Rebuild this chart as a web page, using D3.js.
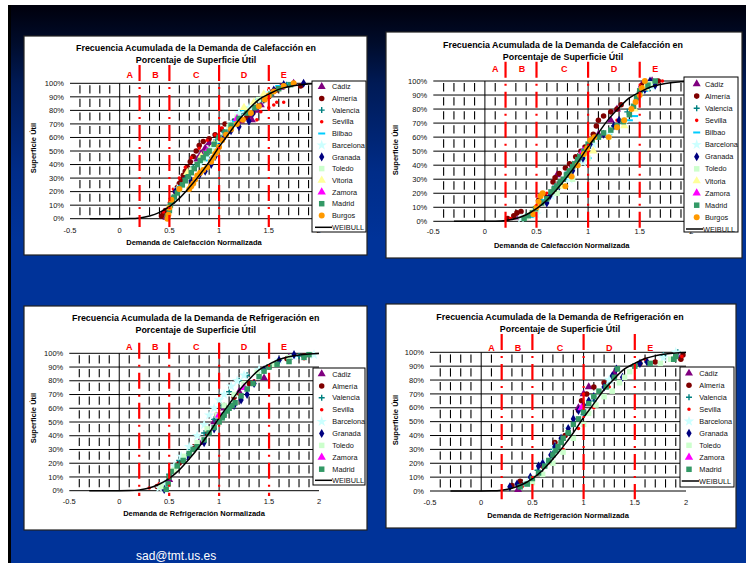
<!DOCTYPE html>
<html>
<head>
<meta charset="utf-8">
<script src="https://cdn.jsdelivr.net/npm/d3@7"></script>
<style>
  body { margin: 0; background: #fff; }
  svg { display: block; }
  text { font-family: "Liberation Sans", Arial, sans-serif; }
</style>
</head>
<body>
<svg id="slide" width="746" height="563"></svg>
<script>
// ---- data ----
var xTicks = [-0.5, 0, 0.5, 1, 1.5, 2];
var yTicks = [0, 10, 20, 30, 40, 50, 60, 70, 80, 90, 100];
var minorX = [-0.4, -0.3, -0.2, -0.1, 0.1, 0.3, 0.4, 0.6, 0.7, 0.8, 0.9, 1.1, 1.2, 1.3, 1.4, 1.6, 1.7, 1.8, 1.9];
var zoneLines = [0.2, 0.5, 1, 1.5];
var zoneNames = ["A", "B", "C", "D", "E"];
var zoneNameX = [0.1, 0.36, 0.77, 1.25, 1.65];

var seriesCalef = ["Cádiz", "Almería", "Valencia", "Sevilla", "Bilbao", "Barcelona", "Granada", "Toledo", "Vitoria", "Zamora", "Madrid", "Burgos"];
var seriesRefrig = ["Cádiz", "Almería", "Valencia", "Sevilla", "Barcelona", "Granada", "Toledo", "Zamora", "Madrid"];

var weibullX = [-0.3, 0, 0.1, 0.2, 0.3, 0.4, 0.5, 0.6, 0.7, 0.8, 0.9, 1.0, 1.1, 1.2, 1.3, 1.4, 1.5, 1.6, 1.7, 1.8, 1.9, 2.0];
var weibullY = [0, 0, 0.1, 0.6, 2, 4.7, 9, 15, 23, 32, 42, 53, 63, 73, 81, 88, 92, 95.5, 97.5, 98.8, 99.5, 99.8];

var calef1 = {
  "Cádiz": [[0.47,1],[0.78,44],[0.82,48],[0.86,52],[0.9,56],[1.22,72],[1.27,74],[1.3,76],[1.33,73],[1.38,80],[1.42,84],[1.52,92],[1.62,97],[1.75,100]],
  "Almería": [[0.42,2],[0.44,4],[0.46,6],[0.56,20],[0.58,23],[0.6,26],[0.62,29],[0.64,32],[0.66,35],[0.68,38],[0.71,42],[0.74,46],[0.77,50],[0.8,54],[0.84,57],[0.9,59],[0.96,62],[1.02,66],[1.06,70],[1.15,72],[1.28,75],[1.34,78],[1.5,90],[1.58,95],[1.7,99],[1.82,98]],
  "Valencia": [[0.52,15],[0.58,21],[0.66,30],[0.74,38],[0.82,44],[0.9,50],[0.97,58],[1.05,64],[1.14,72],[1.22,78],[1.3,82],[1.42,88],[1.55,95],[1.68,99]],
  "Sevilla": [[0.44,5],[0.5,12],[0.54,22],[0.6,30],[0.66,38],[0.72,45],[0.8,52],[0.88,58],[0.96,62],[1.03,67],[1.1,69],[1.2,72],[1.38,73],[1.42,79],[1.5,82],[1.55,84],[1.58,86],[1.65,86],[1.5,95]],
  "Bilbao": [[0.62,24],[0.85,43],[0.98,56],[1.15,72],[1.25,80],[1.4,88],[1.6,98],[1.72,100]],
  "Barcelona": [[0.58,22],[0.7,32],[0.8,40],[0.88,46],[0.94,52],[1.02,60],[1.12,70],[1.2,78],[1.3,82],[1.38,86],[1.5,93]],
  "Granada": [[0.56,20],[0.72,28],[0.8,32],[0.86,35],[0.92,40],[0.96,46],[1.0,53],[1.05,60],[1.12,65],[1.2,68],[1.3,72],[1.34,78],[1.38,84],[1.45,88],[1.55,95],[1.65,99],[1.85,100]],
  "Toledo": [[0.5,8],[0.6,22],[0.72,36],[0.84,44],[0.92,50],[1.0,58],[1.1,68],[1.18,75],[1.28,80],[1.4,88]],
  "Vitoria": [[0.68,34],[0.82,46],[0.95,55],[1.25,82],[1.35,86],[1.45,92]],
  "Zamora": [[0.88,50],[1.18,74]],
  "Madrid": [[0.48,2],[0.5,6],[0.51,10],[0.53,13],[0.55,16],[0.58,19],[0.6,22],[0.63,25],[0.66,28],[0.69,31],[0.72,34],[0.75,37],[0.78,40],[0.81,43],[0.84,45],[0.87,48],[0.9,50],[0.95,55],[1.0,60],[1.06,64],[1.12,69],[1.2,74],[1.28,78],[1.36,82],[1.45,88],[1.52,92],[1.6,96],[1.72,99]],
  "Burgos": [[0.48,0],[0.49,3],[0.5,8],[0.52,14],[0.6,22],[0.7,22],[0.72,24],[0.74,26],[0.76,29],[0.78,32],[0.81,34],[0.84,36],[0.88,38],[0.92,42],[0.94,45],[0.96,48],[0.98,50],[1.0,53],[1.03,58],[1.07,62],[1.12,66],[1.18,70],[1.24,73],[1.32,78],[1.4,83],[1.46,88],[1.5,91],[1.55,94],[1.65,98],[1.75,100]]
};

var calef2 = {
  "Cádiz": [[0.3,3],[0.7,33],[0.85,40],[0.9,44],[1.1,62],[1.22,72],[1.28,80],[1.52,97],[1.62,100]],
  "Almería": [[0.22,2],[0.28,4],[0.31,6],[0.35,7],[0.52,15],[0.6,18],[0.66,28],[0.68,31],[0.72,34],[0.78,38],[0.82,41],[0.88,46],[0.93,50],[0.97,53],[1.05,62],[1.08,68],[1.1,72],[1.15,75],[1.22,78],[1.28,80],[1.32,83],[1.52,97],[1.68,100]],
  "Valencia": [[0.4,4],[0.55,15],[0.68,25],[0.8,35],[0.92,45],[1.0,52],[1.1,60],[1.25,68],[1.38,78],[1.5,92],[1.6,95]],
  "Sevilla": [[0.25,2],[0.45,5],[0.6,20],[0.75,30],[0.88,40],[1.0,50],[1.15,62],[1.28,72],[1.48,90],[1.6,99],[1.72,100]],
  "Bilbao": [[0.45,3],[0.58,15],[0.8,30],[1.0,45],[1.2,62],[1.4,72],[1.45,75],[1.55,93]],
  "Barcelona": [[0.35,2],[0.5,5],[0.65,18],[0.82,30],[0.95,42],[1.05,55],[1.2,62],[1.35,70],[1.5,90],[1.62,96]],
  "Granada": [[0.6,13],[0.63,18],[0.72,25],[0.85,36],[0.95,45],[1.02,55],[1.15,62],[1.25,68],[1.3,72],[1.55,94],[1.6,100],[1.65,97]],
  "Toledo": [[0.4,3],[0.5,8],[0.7,20],[0.85,30],[1.0,45],[1.2,60],[1.35,72],[1.48,88],[1.6,98]],
  "Vitoria": [[0.45,6],[0.75,25],[1.05,50],[1.35,68],[1.45,80],[1.55,95]],
  "Zamora": [[0.95,50]],
  "Madrid": [[0.38,2],[0.42,4],[0.46,6],[0.49,9],[0.55,13],[0.6,16],[0.64,21],[0.67,23],[0.7,25],[0.73,28],[0.76,30],[0.79,33],[0.82,36],[0.85,39],[0.87,41],[0.9,44],[0.92,46],[0.96,50],[1.0,55],[1.04,58],[1.1,60],[1.15,63],[1.22,65],[1.28,68],[1.34,71],[1.4,76],[1.44,82],[1.47,88],[1.5,93],[1.58,97],[1.65,100]],
  "Burgos": [[0.47,5],[0.5,10],[0.52,14],[0.54,18],[0.56,20],[0.78,25],[0.84,32],[0.9,40],[0.96,48],[0.99,52],[1.02,58],[1.06,60],[1.2,60],[1.28,67],[1.35,72],[1.42,80],[1.46,85],[1.5,90],[1.52,95],[1.55,100]]
};

var refrig1 = {
  "Cádiz": [[0.5,8],[0.8,35],[0.95,50],[1.05,60],[1.2,72],[1.45,82],[1.7,97]],
  "Almería": [[0.38,3],[0.5,10],[0.6,20],[0.75,32],[0.88,42],[0.98,55],[1.05,62],[1.15,68],[1.3,78],[1.5,90],[1.68,96],[1.85,98]],
  "Valencia": [[0.5,12],[0.6,22],[0.72,30],[0.85,42],[0.95,52],[1.02,62],[1.1,72],[1.2,80],[1.28,84],[1.4,88],[1.6,95],[1.8,98]],
  "Sevilla": [[0.3,2],[0.4,5],[0.55,14],[0.65,22],[0.78,32],[0.9,42],[1.0,52],[1.08,60],[1.2,70],[1.35,80],[1.5,90],[1.85,96]],
  "Barcelona": [[0.4,2],[0.45,5],[0.55,18],[0.62,25],[0.7,32],[0.78,40],[0.85,48],[0.9,55],[0.95,60],[1.0,66],[1.05,70],[1.12,76],[1.18,80],[1.25,84],[1.4,88],[1.6,95],[1.75,98],[1.95,99]],
  "Granada": [[0.45,1],[0.68,25],[0.85,35],[0.95,45],[1.05,55],[1.15,62],[1.22,66],[1.28,70],[1.35,78],[1.45,88],[1.6,95],[1.75,99]],
  "Toledo": [[0.42,3],[0.55,15],[0.65,25],[0.78,35],[0.88,45],[0.98,55],[1.05,62],[1.15,70],[1.25,78],[1.38,86],[1.55,92],[1.7,97]],
  "Zamora": [[1.0,55],[1.25,75]],
  "Madrid": [[0.47,1],[0.49,5],[0.5,10],[0.52,14],[0.58,18],[0.64,22],[0.7,27],[0.74,30],[0.78,32],[0.85,37],[0.9,42],[0.95,46],[1.0,50],[1.03,53],[1.05,55],[1.08,58],[1.1,60],[1.13,62],[1.16,64],[1.22,69],[1.28,74],[1.34,78],[1.4,83],[1.45,87],[1.5,90],[1.58,92],[1.7,94],[1.85,97],[1.9,99]]
};

var refrig2 = {
  "Cádiz": [[0.36,1],[0.95,60],[1.0,70],[1.05,75],[1.3,85],[1.92,97]],
  "Almería": [[0.3,4],[0.38,7],[0.6,18],[0.72,35],[0.82,40],[0.95,58],[0.98,65],[1.03,70],[1.1,75],[1.2,78],[1.3,82],[1.55,92],[1.7,93],[1.95,95],[1.97,98]],
  "Valencia": [[0.42,5],[0.55,15],[0.7,30],[0.85,42],[1.0,55],[1.1,65],[1.25,78],[1.55,92],[1.78,98],[1.92,100]],
  "Sevilla": [[0.4,3],[0.55,12],[0.68,20],[0.8,30],[0.95,45],[1.0,70],[1.1,60],[1.25,75],[1.6,95],[1.96,97]],
  "Barcelona": [[0.45,6],[0.62,20],[0.72,32],[0.85,45],[0.98,58],[1.1,68],[1.25,80],[1.78,96],[1.9,100]],
  "Granada": [[0.28,3],[0.35,5],[0.48,10],[0.56,18],[0.6,20],[0.68,26],[0.72,32],[0.78,38],[0.85,45],[0.9,52],[0.95,58],[1.0,62],[1.05,65],[1.1,68],[1.2,75],[1.28,83],[1.32,88],[1.38,82],[1.55,92],[1.62,93]],
  "Toledo": [[0.5,6],[0.6,12],[0.7,20],[0.8,28],[0.9,38],[1.0,48],[1.05,56],[1.12,62],[1.2,68],[1.28,72],[1.35,78],[1.4,82],[1.45,86],[1.75,92],[1.85,95]],
  "Zamora": [[0.98,60]],
  "Madrid": [[0.38,3],[0.45,5],[0.5,9],[0.56,13],[0.62,18],[0.66,22],[0.7,26],[0.73,29],[0.75,32],[0.78,35],[0.8,38],[0.85,42],[0.9,48],[0.95,52],[1.0,57],[1.05,63],[1.1,68],[1.15,72],[1.22,75],[1.3,82],[1.33,88],[1.5,90],[1.65,92],[1.88,95],[1.9,97]]
};

// ---- marker styles (Excel-like) ----
var markers = {
  "Cádiz":     { type: "triangle", size: 28, fill: "#800080" },
  "Almería":   { type: "circle",   size: 24, fill: "#800000" },
  "Valencia":  { type: "plus",     size: 0,  fill: "#008080" },
  "Sevilla":   { type: "circle",   size: 10, fill: "#ff0000" },
  "Bilbao":    { type: "dash",     size: 0,  fill: "#00ccff" },
  "Barcelona": { type: "star",     size: 34, fill: "#ccffff" },
  "Granada":   { type: "diamond",  size: 24, fill: "#000080" },
  "Toledo":    { type: "square",   size: 30, fill: "#ccffcc" },
  "Vitoria":   { type: "triangle", size: 30, fill: "#ffff99" },
  "Zamora":    { type: "triangle", size: 30, fill: "#ff00ff" },
  "Madrid":    { type: "square",   size: 30, fill: "#339966" },
  "Burgos":    { type: "circle",   size: 28, fill: "#ff9900" }
};

function markerPath(m) {
  if (m.type === "plus") return "M-3,-0.7H-0.7V-3H0.7V-0.7H3V0.7H0.7V3H-0.7V0.7H-3Z";
  if (m.type === "dash") return "M-3.5,-1H3.5V1H-3.5Z";
  var t = { triangle: d3.symbolTriangle, circle: d3.symbolCircle, star: d3.symbolStar,
            diamond: d3.symbolDiamond, square: d3.symbolSquare }[m.type];
  return d3.symbol().type(t).size(m.size)();
}

// ---- panel layouts (pixel positions) ----
var panels = [
  { data: calef1, names: seriesCalef, kind: "Calefacción",
    box: [24, 36, 343, 219], xr: [70, 318.5], yr: [218.7, 83.3],
    title: [196, 47.3, 59.3], zoneY: 74.3, red: [65, 227], xTitle: [194, 242], yTitle: [33, 148], tickY: 230,
    leg: { x: 312, y: 81, w: 54, h: 151, y0: 86.7, dy: 11.7, wy: 227.3, mx: 321.7, tx: 332, lx: [315, 332] } },
  { data: calef2, names: seriesCalef, kind: "Calefacción",
    box: [386, 32, 356, 226], xr: [433.3, 691.3], yr: [221.3, 81],
    title: [563, 45, 56.7], zoneY: 68.3, red: [61.7, 230], xTitle: [561.7, 245], yTitle: [395, 150], tickY: 231.7,
    leg: { x: 684, y: 77, w: 54, h: 155, y0: 84, dy: 12.12, wy: 229, mx: 696.7, tx: 705, lx: [686, 703] } },
  { data: refrig1, names: seriesRefrig, kind: "Refrigeración",
    box: [24, 306, 343, 224], xr: [69.3, 319], yr: [490.7, 353.3],
    title: [195.7, 317.3, 329.3], zoneY: 346.7, red: [342.7, 496], xTitle: [194, 513.3], yTitle: [33, 418], tickY: 501.7,
    leg: { x: 313, y: 368, w: 52, h: 117, y0: 374, dy: 11.9, wy: 480.3, mx: 321.7, tx: 332.3, lx: [315, 332] } },
  { data: refrig2, names: seriesRefrig, kind: "Refrigeración",
    box: [386, 304, 350, 224], xr: [430, 686], yr: [491, 352.3],
    title: [560, 316.7, 329], zoneY: 347.3, red: [334, 499.3], xTitle: [558, 515], yTitle: [395, 420], tickY: 502.7,
    leg: { x: 680, y: 367, w: 54, h: 120, y0: 373.3, dy: 12, wy: 481, mx: 689, tx: 699.3, lx: [681.7, 699] } }
];

var svg = d3.select("#slide");

// slide background
var grad = svg.append("defs").append("linearGradient")
    .attr("id", "bg").attr("x1", 0).attr("y1", 0).attr("x2", 0).attr("y2", 1);
[[0, "#00000c"], [0.07, "#000c2c"], [0.14, "#001a55"], [0.3, "#002c88"], [0.42, "#003399"], [1, "#003399"]]
  .forEach(function(s) { grad.append("stop").attr("offset", s[0]).attr("stop-color", s[1]); });
svg.append("rect").attr("x", 8).attr("y", 5).attr("width", 738).attr("height", 558).attr("fill", "url(#bg)");
svg.append("rect").attr("x", 8).attr("y", 5).attr("width", 3).attr("height", 558).attr("fill", "#000");

panels.forEach(drawPanel);

svg.append("text")
  .attr("x", 136).attr("y", 560)
  .attr("fill", "#fff").style("font-size", "12px")
  .text("sad@tmt.us.es");

function drawPanel(p) {
  var g = svg.append("g");
  g.append("rect")
    .attr("x", p.box[0]).attr("y", p.box[1]).attr("width", p.box[2]).attr("height", p.box[3])
    .attr("fill", "#fff").attr("stroke", "#222").attr("stroke-width", 1.2);

  var x = d3.scaleLinear().domain([-0.5, 2]).range(p.xr);
  var y = d3.scaleLinear().domain([0, 100]).range(p.yr);

  // horizontal grid lines
  g.selectAll(".hg").data(yTicks).enter().append("line")
    .attr("x1", x(-0.5)).attr("x2", x(2))
    .attr("y1", function(d) { return y(d); }).attr("y2", function(d) { return y(d); })
    .attr("stroke", "#000").attr("stroke-width", 1);

  // major vertical lines
  g.selectAll(".vg").data([0, 1]).enter().append("line")
    .attr("x1", function(d) { return x(d); }).attr("x2", function(d) { return x(d); })
    .attr("y1", y(0)).attr("y2", y(100))
    .attr("stroke", "#000").attr("stroke-width", 1);

  // short minor ticks inside each 10% band
  var bands = yTicks.slice(0, -1);
  var cells = [];
  bands.forEach(function(b) { minorX.forEach(function(m) { cells.push([m, b]); }); });
  g.selectAll(".mt").data(cells).enter().append("line")
    .attr("x1", function(d) { return x(d[0]); }).attr("x2", function(d) { return x(d[0]); })
    .attr("y1", function(d) { return y(d[1] + 8.5); })
    .attr("y2", function(d) { return y(d[1] + 2.5); })
    .attr("stroke", "#000").attr("stroke-width", 1.1);

  // tick labels
  g.selectAll(".yl").data(yTicks).enter().append("text")
    .attr("x", x(-0.5) - 6).attr("y", function(d) { return y(d) + 2.7; })
    .attr("text-anchor", "end").style("font-size", "7.5px").attr("fill", "#111")
    .text(function(d) { return d + "%"; });
  g.selectAll(".xl").data(xTicks).enter().append("text")
    .attr("x", function(d) { return x(d); }).attr("y", p.tickY + 2.7)
    .attr("text-anchor", "middle").style("font-size", "7.5px").attr("fill", "#111")
    .text(function(d) { return d; });

  // scatter series
  p.names.forEach(function(name) {
    var m = markers[name];
    g.append("g").selectAll("path").data(p.data[name]).enter().append("path")
      .attr("transform", function(d) { return "translate(" + x(d[0]) + "," + y(d[1]) + ")"; })
      .attr("d", markerPath(m))
      .attr("fill", m.fill);
  });

  // weibull curve
  var wb = weibullX.map(function(v, i) { return [v, weibullY[i]]; });
  g.append("path").datum(wb)
    .attr("d", d3.line().x(function(d) { return x(d[0]); }).y(function(d) { return y(d[1]); }).curve(d3.curveMonotoneX))
    .attr("fill", "none").attr("stroke", "#000").attr("stroke-width", 1.5);

  // red zone limits
  g.selectAll(".zl").data(zoneLines).enter().append("line")
    .attr("x1", function(d) { return x(d); }).attr("x2", function(d) { return x(d); })
    .attr("y1", p.red[0]).attr("y2", p.red[1])
    .attr("stroke", "#ff0000").attr("stroke-width", 2.2)
    .attr("stroke-dasharray", "16,6,2,6");
  g.selectAll(".zn").data(zoneNames).enter().append("text")
    .attr("x", function(d, i) { return x(zoneNameX[i]); }).attr("y", p.zoneY + 3.2)
    .attr("text-anchor", "middle").attr("fill", "#ff0000")
    .style("font-size", "9px").style("font-weight", "bold")
    .text(function(d) { return d; });

  // titles
  var t = g.append("text").attr("text-anchor", "middle")
    .style("font-size", "8.9px").style("font-weight", "bold").attr("fill", "#000");
  t.append("tspan").attr("x", p.title[0]).attr("y", p.title[1] + 3.2)
    .text("Frecuencia Acumulada de la Demanda de " + p.kind + " en");
  t.append("tspan").attr("x", p.title[0]).attr("y", p.title[2] + 3.2)
    .text("Porcentaje de Superficie Útil");
  g.append("text").attr("x", p.xTitle[0]).attr("y", p.xTitle[1] + 2.7)
    .attr("text-anchor", "middle").style("font-size", "7.5px").style("font-weight", "bold")
    .text("Demanda de " + p.kind + " Normalizada");
  g.append("text")
    .attr("transform", "translate(" + (p.yTitle[0] + 2.7) + "," + p.yTitle[1] + ") rotate(-90)")
    .attr("text-anchor", "middle").style("font-size", "7.5px").style("font-weight", "bold")
    .text("Superficie Útil");

  // legend
  var L = p.leg;
  var lg = g.append("g");
  lg.append("rect").attr("x", L.x).attr("y", L.y).attr("width", L.w).attr("height", L.h)
    .attr("fill", "#fff").attr("stroke", "#000").attr("stroke-width", 1);
  p.names.forEach(function(name, i) {
    var m = markers[name];
    var yy = L.y0 + i * L.dy;
    lg.append("path").attr("transform", "translate(" + L.mx + "," + yy + ")")
      .attr("d", markerPath(m)).attr("fill", m.fill);
    lg.append("text").attr("x", L.tx).attr("y", yy + 2.6)
      .style("font-size", "7.3px").attr("fill", "#111").text(name);
  });
  lg.append("line").attr("x1", L.lx[0]).attr("x2", L.lx[1]).attr("y1", L.wy).attr("y2", L.wy)
    .attr("stroke", "#000").attr("stroke-width", 1.5);
  lg.append("text").attr("x", L.lx[1]).attr("y", L.wy + 2.6)
    .style("font-size", "7.3px").attr("fill", "#111").text("WEIBULL");
}
</script>
</body>
</html>
